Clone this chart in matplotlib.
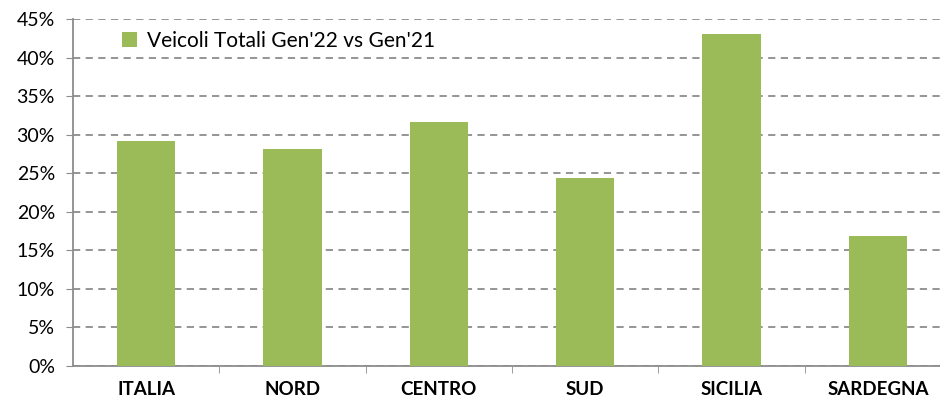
import matplotlib.pyplot as plt
from matplotlib.ticker import PercentFormatter

regions = ['ITALIA', 'NORD', 'CENTRO', 'SUD', 'SICILIA', 'SARDEGNA']
values = [29.2, 28.1, 31.6, 24.4, 43.0, 16.9]
label = "Veicoli Totali Gen'22 vs Gen'21"

plt.rcParams['font.family'] = ['Lato', 'DejaVu Sans']

fig = plt.figure(figsize=(9.4, 4.01), dpi=100)
ax = fig.add_axes([73 / 940, 35 / 401, 878 / 940, 347 / 401])

x = list(range(len(regions)))
ax.bar(x, values, width=0.4, color='#9BBB59', label=label, zorder=3)

ax.set_ylim(0, 45)
ax.set_xlim(-0.5, len(regions) - 0.5)
ax.set_yticks(range(0, 50, 5))
ax.yaxis.set_major_formatter(PercentFormatter(decimals=0))
ax.grid(axis='y', color='#8c8c8c', linestyle=(0, (4, 3)), linewidth=1.3, zorder=0)

ax.set_xticks(x)
ax.set_xticklabels(regions, fontweight='bold', fontsize=13.5)
ax.set_xticks([i + 0.5 for i in x[:-1]], minor=True)
ax.tick_params(axis='x', which='major', length=0, pad=11)
ax.tick_params(axis='x', which='minor', length=5, color='#8c8c8c')
ax.tick_params(axis='y', length=5, color='#8c8c8c', labelsize=14, pad=8)

for s in ['top', 'right']:
    ax.spines[s].set_visible(False)
for s in ['left', 'bottom']:
    ax.spines[s].set_color('#8c8c8c')
    ax.spines[s].set_linewidth(1.3)

ax.legend(loc='upper left', bbox_to_anchor=(0.034, 1.02), frameon=False,
          fontsize=15, handlelength=0.75, handleheight=0.75, handletextpad=0.45)

fig.savefig('out.png', dpi=100)
